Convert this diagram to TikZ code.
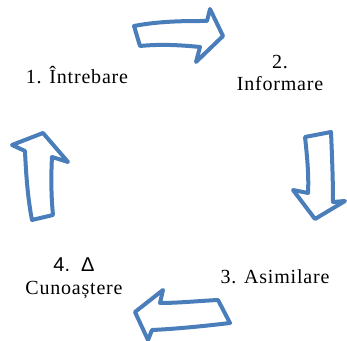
\documentclass[tikz,border=0pt]{standalone}
\usepackage{fontspec}
\setmainfont{Liberation Serif}[LetterSpace=4]
\newfontfamily\sansf{Liberation Sans}
\definecolor{arrowblue}{RGB}{74,126,187}
\begin{document}
\begin{tikzpicture}[x=0.75pt,y=-0.75pt,
  blockarrow/.style={draw=arrowblue,fill=white,line width=3pt,line join=round},
  lbl/.style={font=\fontsize{15}{17}\selectfont,align=center,inner sep=0pt}]
\useasboundingbox (0,0) rectangle (347,341);
% top arrow (pointing right)
\draw[blockarrow] (134,26) .. controls (160,21) and (185,21) .. (207,21)
  -- (210,9) -- (223,36) -- (196,62) -- (200,47)
  .. controls (180,45) and (160,44) .. (140,46) -- cycle;
% right arrow (pointing down)
\draw[blockarrow] (331,132) .. controls (332,155) and (333,180) .. (333,202)
  -- (345,201) -- (315,219) -- (293,190) -- (308,193)
  .. controls (309,175) and (307,155) .. (305,137) -- cycle;
% bottom arrow (pointing left)
\draw[blockarrow] (218,300) .. controls (198,301) and (178,303) .. (160,303)
  -- (163,290) -- (135,312) -- (148,340) -- (152,330)
  .. controls (175,329) and (205,326) .. (230,323) -- cycle;
% left arrow (pointing up)
\draw[blockarrow] (32,220) .. controls (28,200) and (26,175) .. (25,151)
  -- (12,145) -- (43,133) -- (68,162) -- (52,157)
  .. controls (51,175) and (51,195) .. (53,215) -- cycle;
% labels
\node[lbl] (n1) at (77,75) {1. Întrebare};
\node[lbl] (n2) at (280,73) {2.\\Informare};
\node[lbl] (n3) at (275,277) {3. Asimilare};
\node[lbl] (n4) at (74,278) {{\sansf 4.\ \ Δ}\\Cunoaștere};
\end{tikzpicture}
\end{document}
